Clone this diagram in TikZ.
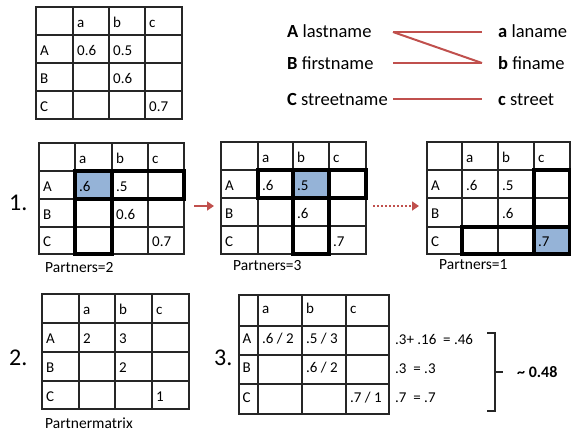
\documentclass[tikz,border=0pt]{standalone}
\usepackage{fontspec}
\setmainfont{Carlito}
\usetikzlibrary{arrows.meta}
\definecolor{redl}{HTML}{C0504D}
\definecolor{bluec}{HTML}{95B3D7}
\newcommand\mgrid[6]{%
  \foreach \xx in {#1} \draw[gridl] (\xx,#5) -- (\xx,#6);
  \foreach \yy in {#2} \draw[gridl] (#3,\yy) -- (#4,\yy);
}
\begin{document}
\begin{tikzpicture}[x=1pt,y=-1pt,
  gridl/.style={line width=1.5pt, draw=black!85, line cap=rect},
  thickb/.style={line width=3.7pt, draw=black, line join=miter},
  hilite/.style={fill=bluec, draw=none},
  cell/.style={anchor=base west, inner sep=0pt, font=\fontsize{15}{18}\selectfont},
  captxt/.style={anchor=base west, inner sep=0pt, font=\fontsize{15.5}{18}\selectfont},
  bignum/.style={anchor=base west, inner sep=0pt, font=\fontsize{24}{28}\selectfont},
  nametxt/.style={anchor=base west, inner sep=0pt, font=\fontsize{18.5}{22}\selectfont},
  link/.style={draw=redl, line width=2pt},
  step arrow/.style={draw=redl, line width=2.5pt, -{Triangle[length=7pt,width=9pt]}},
  dots arrow/.style={draw=redl, line width=2.5pt, dash pattern=on 2pt off 2pt, -{Triangle[length=7pt,width=9pt]}},
  bracket/.style={draw=black!85, line width=1.5pt}
]
\useasboundingbox (0,0) rectangle (571,432);

% ---------- top table ----------
\mgrid{36,73,109,145,182}{7,35,63,91,119}{36}{182}{7}{119}
\node[cell] (t0a) at (77,27) {a};
\node[cell] (t0b) at (113,27) {b};
\node[cell] (t0c) at (149,27) {c};
\node[cell] (t0A) at (40,55) {A};
\node[cell] (t0Aa) at (77,55) {0.6};
\node[cell] (t0Ab) at (113,55) {0.5};
\node[cell] (t0B) at (40,83) {B};
\node[cell] (t0Bb) at (113,83) {0.6};
\node[cell] (t0C) at (40,111) {C};
\node[cell] (t0Cc) at (149,111) {0.7};

% ---------- top right names ----------
\node[nametxt] (nA) at (287,37) {\textbf{A} lastname};
\node[nametxt] (nB) at (287,69) {\textbf{B} firstname};
\node[nametxt] (nC) at (287,105) {\textbf{C} streetname};
\node[nametxt] (na) at (498,37) {\textbf{a} laname};
\node[nametxt] (nb) at (498,69) {\textbf{b} finame};
\node[nametxt] (nc) at (498,105) {\textbf{c} street};
\coordinate (pA) at (393,32);
\coordinate (pB) at (393,63);
\coordinate (pC) at (393,99);
\coordinate (qa) at (482,32);
\coordinate (qb) at (482,63);
\coordinate (qc) at (482,99);
\draw[link] (pA) -- (qa);
\draw[link] (pA) -- (qb);
\draw[link] (pB) -- (qb);
\draw[link] (pC) -- (qc);

% ---------- step 1 ----------
\node[bignum] (one) at (9,210) {1.};
% matrix 1
\fill[hilite] (75,171) rectangle (112,199);
\mgrid{39,75,112,148,184}{143,171,199,227,254}{39}{184}{143}{254}
\draw[thickb] (75,171) rectangle (184,199);
\draw[thickb] (75,171) rectangle (112,254);
\node[cell] (m1a) at (79,163) {a};
\node[cell] (m1b) at (116,163) {b};
\node[cell] (m1c) at (152,163) {c};
\node[cell] (m1A) at (43,191) {A};
\node[cell] (m1Aa) at (79,191) {.6};
\node[cell] (m1Ab) at (116,191) {.5};
\node[cell] (m1B) at (43,219) {B};
\node[cell] (m1Bb) at (116,219) {0.6};
\node[cell] (m1C) at (43,246.5) {C};
\node[cell] (m1Cc) at (152,246.5) {0.7};
\node[captxt] (p2) at (45,272.5) {Partners=2};

% arrow 1
\coordinate (ar1s) at (194,206);
\coordinate (ar1e) at (214,206);
\draw[step arrow] (ar1s) -- (ar1e);

% matrix 2
\fill[hilite] (293,170) rectangle (329,198);
\mgrid{221,258,293,329,366}{142,170,198,226,254}{221}{366}{142}{254}
\draw[thickb] (258,170) rectangle (366,198);
\draw[thickb] (293,170) rectangle (329,254);
\node[cell] (m2a) at (262,162) {a};
\node[cell] (m2b) at (297,162) {b};
\node[cell] (m2c) at (333,162) {c};
\node[cell] (m2A) at (225,190) {A};
\node[cell] (m2Aa) at (262,190) {.6};
\node[cell] (m2Ab) at (297,190) {.5};
\node[cell] (m2B) at (225,218) {B};
\node[cell] (m2Bb) at (297,218) {.6};
\node[cell] (m2C) at (225,246) {C};
\node[cell] (m2Cc) at (333,246) {.7};
\node[captxt] (p3) at (233,270.5) {Partners=3};

% arrow 2 (dotted)
\coordinate (ar2s) at (373,206);
\coordinate (ar2e) at (419,206);
\draw[dots arrow] (ar2s) -- (ar2e);

% matrix 3
\fill[hilite] (534,227) rectangle (570,254);
\mgrid{427,462,498,534,570}{142,170,198,227,254}{427}{570}{142}{254}
\draw[thickb] (534,170) rectangle (570,254);
\draw[thickb] (462,227) rectangle (570,254);
\node[cell] (m3a) at (466,162) {a};
\node[cell] (m3b) at (502,162) {b};
\node[cell] (m3c) at (538,162) {c};
\node[cell] (m3A) at (431,190) {A};
\node[cell] (m3Aa) at (466,190) {.6};
\node[cell] (m3Ab) at (502,190) {.5};
\node[cell] (m3B) at (431,218.5) {B};
\node[cell] (m3Bb) at (502,218.5) {.6};
\node[cell] (m3C) at (431,246.5) {C};
\node[cell] (m3Cc) at (538,246.5) {.7};
\node[captxt] (p1) at (439,269.5) {Partners=1};

% ---------- step 2 ----------
\node[bignum] (two) at (9,365) {2.};
\mgrid{42,79,115,152,189}{294,323,352,381,409}{42}{189}{294}{409}
\node[cell] (m4a) at (83,314.5) {a};
\node[cell] (m4b) at (119,314.5) {b};
\node[cell] (m4c) at (156,314.5) {c};
\node[cell] (m4A) at (46,343.5) {A};
\node[cell] (m4Aa) at (83,343.5) {2};
\node[cell] (m4Ab) at (119,343.5) {3};
\node[cell] (m4B) at (46,372.5) {B};
\node[cell] (m4Bb) at (119,372.5) {2};
\node[cell] (m4C) at (46,401) {C};
\node[cell] (m4Cc) at (156,401) {1};
\node[captxt] (pm) at (45,428.5) {Partnermatrix};

% ---------- step 3 ----------
\node[bignum] (three) at (214,365) {3.};
\mgrid{239,258,302,346,389}{295,326,355,384,414}{239}{389}{295}{414}
\node[cell] (m5a) at (262,313.5) {a};
\node[cell] (m5b) at (306,313.5) {b};
\node[cell] (m5c) at (350,313.5) {c};
\node[cell] (m5A) at (242.5,343.5) {A};
\node[cell] (m5Aa) at (262,343.5) {.6 / 2};
\node[cell] (m5Ab) at (306,343.5) {.5 / 3};
\node[cell] (m5B) at (242.5,372.5) {B};
\node[cell] (m5Bb) at (306,372.5) {.6 / 2};
\node[cell] (m5C) at (242.5,402) {C};
\node[cell] (m5Cc) at (350,402) {.7 / 1};
\node[cell] (f1) at (395,344) {.3+ .16~ = .46};
\node[cell] (f2) at (395,373) {.3~ = .3};
\node[cell] (f3) at (395,402) {.7~ = .7};
\draw[bracket] (487,333) -- (495,333) -- (495,411) -- (487,411);
\coordinate (brt) at (495,372);
\coordinate (brp) at (503,372);
\draw[bracket] (brt) -- (brp);
\node[cell, font=\fontsize{16}{18}\selectfont\bfseries] (res) at (517,377) {\textasciitilde{} 0.48};
\end{tikzpicture}
\end{document}
